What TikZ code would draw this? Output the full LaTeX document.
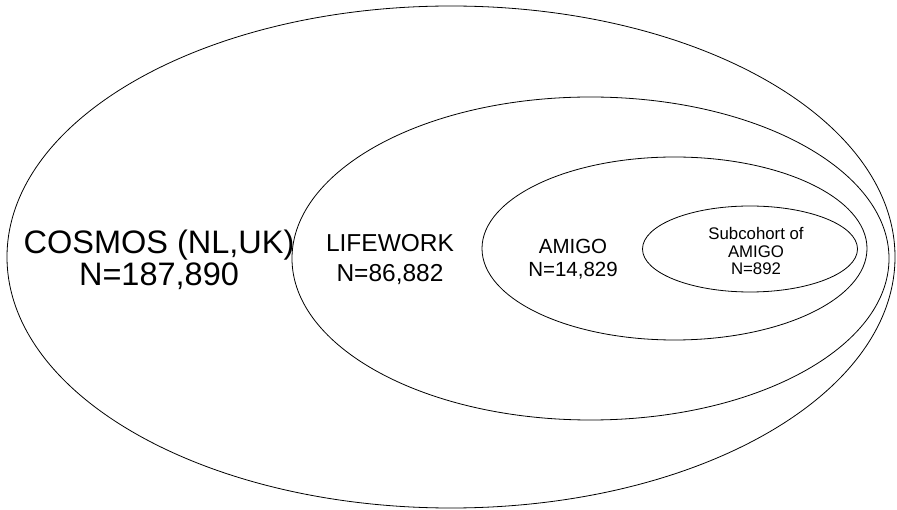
\documentclass[tikz,border=0pt]{standalone}
\usepackage{fontspec}
\setmainfont{Liberation Sans}
\usetikzlibrary{shapes.geometric}
\begin{document}
\begin{tikzpicture}[x=1pt,y=-1pt,
  set/.style={draw=black,line width=0.8pt,ellipse,inner sep=0pt,fill=none},
  lbl/.style={align=center,inner sep=0pt,text=black}]
\useasboundingbox (0,0) rectangle (897,510);
\fill[white] (0,0) rectangle (897,510);
\node[set,minimum width=888pt,minimum height=502pt] (cosmos) at (451,257) {};
\node[set,minimum width=597pt,minimum height=323pt] (lifework) at (590.5,258.5) {};
\node[set,minimum width=385pt,minimum height=183pt] (amigo) at (674.5,248.5) {};
\node[set,minimum width=215pt,minimum height=86pt] (sub) at (750,249) {};
\node[lbl,font=\fontsize{32.5}{32}\selectfont] (tcosmos) at (159,260) {COSMOS (NL,UK)\\N=187,890};
\node[lbl,font=\fontsize{24.5}{30}\selectfont] (tlife) at (390,260) {LIFEWORK\\N=86,882};
\node[lbl,font=\fontsize{20.5}{23}\selectfont] (tamigo) at (573,259) {AMIGO\\N=14,829};
\node[lbl,font=\fontsize{16.8}{17.5}\selectfont] (tsub) at (756,251) {Subcohort of\\AMIGO\\N=892};
\end{tikzpicture}
\end{document}
